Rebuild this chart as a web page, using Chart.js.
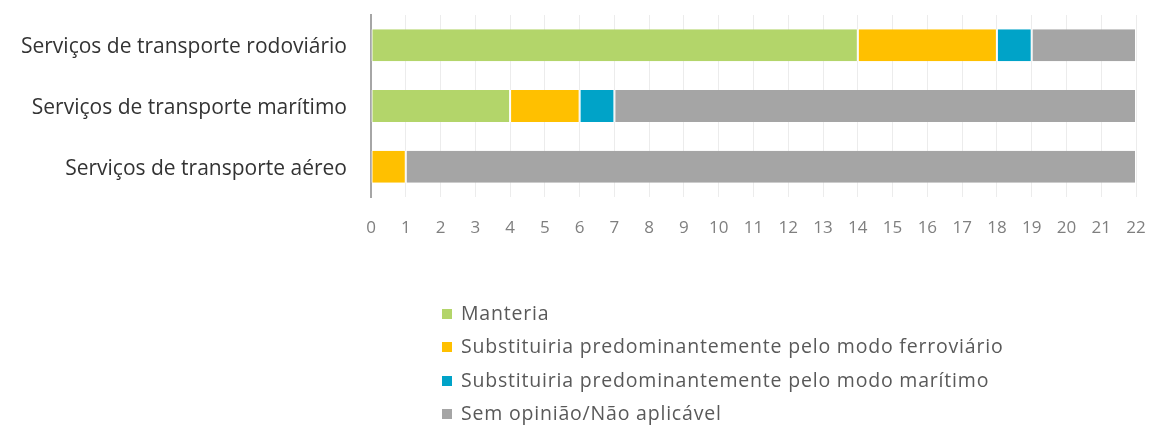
<!DOCTYPE html>
<html>
<head>
<meta charset="utf-8">
<script src="https://cdn.jsdelivr.net/npm/chart.js@4"></script>
<style>
  html, body { margin: 0; padding: 0; background: #fff; }
  #wrap { position: relative; width: 1150px; height: 426px; }
  #legend { position: absolute; left: 442px; top: 299px; font-family: "Open Sans", Lato, sans-serif; font-size: 19.5px; letter-spacing: 0.8px; color: #595959; }
  #legend div { height: 33.3px; line-height: 28px; white-space: nowrap; }
  #legend span.box { display: inline-block; width: 10px; height: 10px; margin-right: 9px; vertical-align: 1px; }
</style>
</head>
<body>
<div id="wrap">
  <canvas id="c" width="1150" height="426"></canvas>
  <div id="legend"></div>
</div>
<script>
const categories = ["Serviços de transporte rodoviário", "Serviços de transporte marítimo", "Serviços de transporte aéreo"];
const seriesNames = ["Manteria", "Substituiria predominantemente pelo modo ferroviário", "Substituiria predominantemente pelo modo marítimo", "Sem opinião/Não aplicável"];
const manteria = [14, 4, 0];
const ferroviario = [4, 2, 1];
const maritimo = [1, 1, 0];
const semOpiniao = [3, 15, 21];
const seriesColors = ["#b3d56a", "#ffc000", "#00a3c8", "#a5a5a5"];
const xMin = 0, xMax = 22, xStep = 1;

const values = [manteria, ferroviario, maritimo, semOpiniao];
const datasets = seriesNames.map((n, i) => ({
  label: n,
  data: values[i],
  backgroundColor: seriesColors[i],
  borderColor: "#ffffff",
  borderWidth: { left: 1, right: 1, top: 0, bottom: 0 },
  borderSkipped: false,
  barPercentage: 0.527,
  categoryPercentage: 1.0
}));

new Chart(document.getElementById("c"), {
  type: "bar",
  data: { labels: categories, datasets },
  options: {
    indexAxis: "y",
    responsive: false,
    animation: false,
    layout: { padding: { left: 0, right: 14, top: 15, bottom: 169 } },
    plugins: { legend: { display: false }, tooltip: { enabled: false } },
    scales: {
      x: {
        stacked: true,
        min: xMin, max: xMax,
        ticks: { stepSize: xStep, color: "#7f7f7f", font: { family: "'Open Sans', Lato, sans-serif", size: 17 }, padding: 21 },
        grid: { color: "#ececec", drawTicks: false },
        border: { display: false },
        afterFit: s => { s.height = 60; s.paddingLeft = 0; s.paddingRight = 0; }
      },
      y: {
        stacked: true,
        ticks: { color: "#333333", font: { family: "'Open Sans', Lato, sans-serif", size: 21 }, padding: 24, labelOffset: 2 },
        grid: { display: false, drawTicks: false },
        border: { display: true, color: "#a6a6a6", width: 2 },
        afterFit: s => { s.width = 371; s.paddingTop = 0; s.paddingBottom = 0; }
      }
    }
  }
});

const lg = document.getElementById("legend");
seriesNames.forEach((n, i) => {
  const d = document.createElement("div");
  const b = document.createElement("span");
  b.className = "box";
  b.style.background = seriesColors[i];
  d.appendChild(b);
  d.appendChild(document.createTextNode(n));
  lg.appendChild(d);
});
</script>
</body>
</html>
